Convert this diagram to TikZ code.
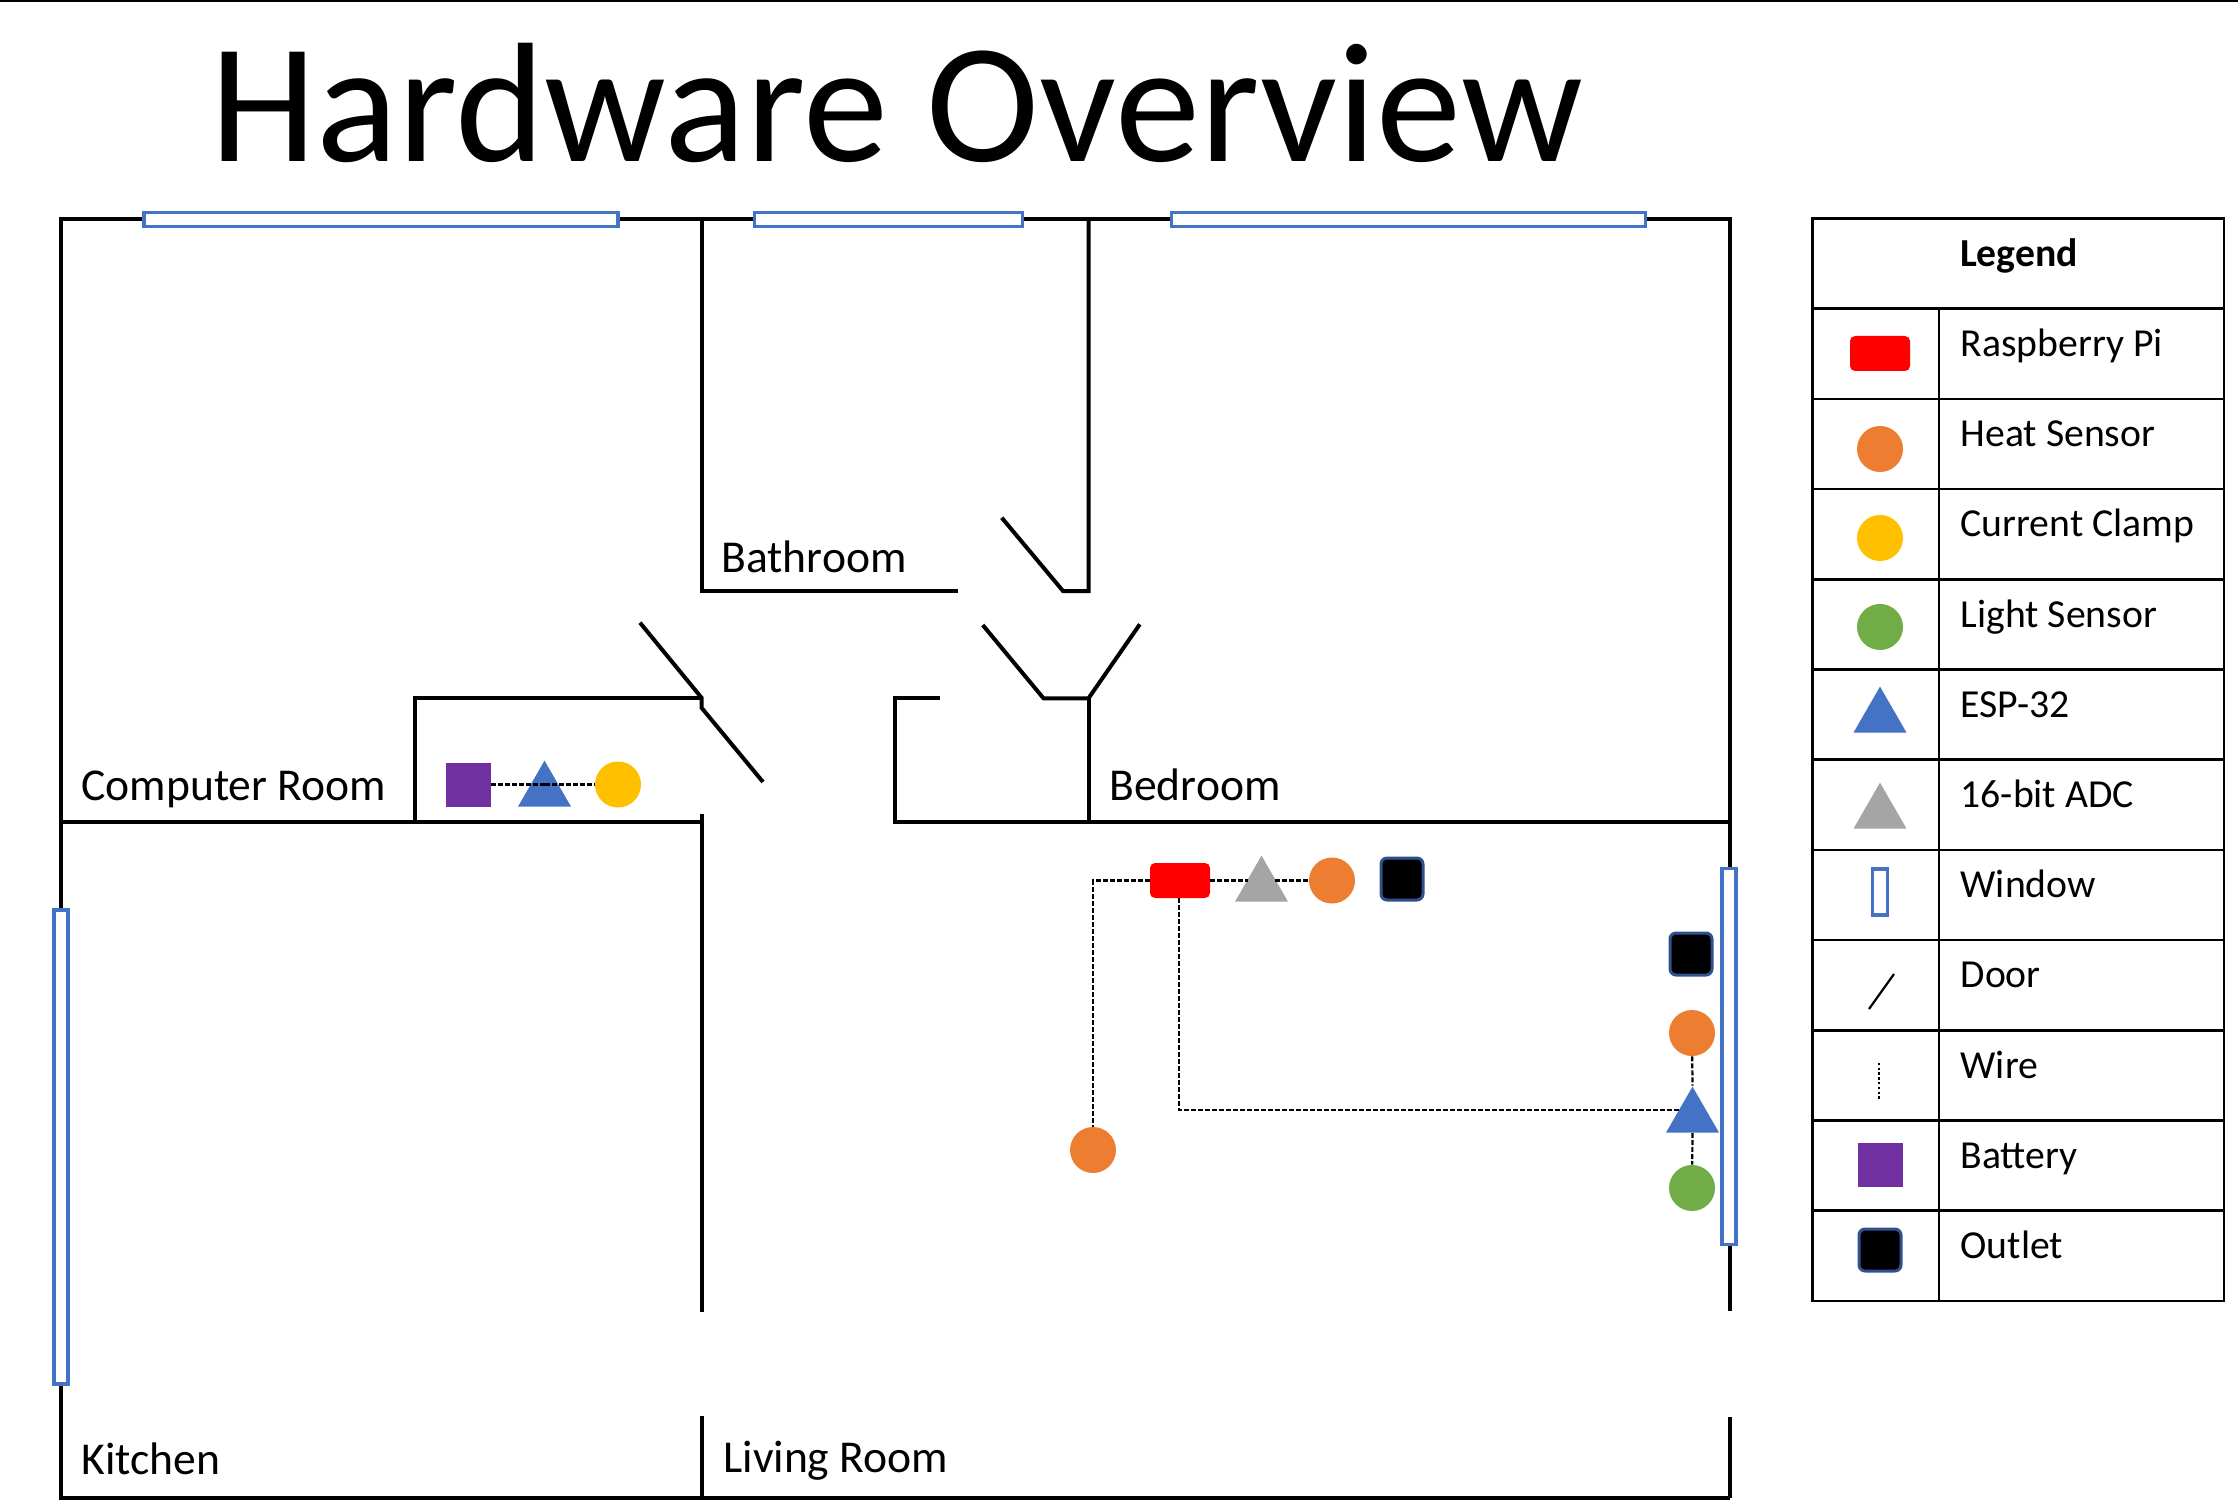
\documentclass[tikz,border=0pt]{standalone}
\usepackage{fontspec}
\setsansfont{Carlito}
\usetikzlibrary{shapes.geometric}
\definecolor{WinBlue}{HTML}{4472C4}
\definecolor{OutletBlue}{HTML}{2F528F}
\definecolor{HeatOrange}{HTML}{ED7D31}
\definecolor{ClampYellow}{HTML}{FFC000}
\definecolor{LightGreen}{HTML}{70AD47}
\definecolor{AdcGray}{HTML}{A5A5A5}
\definecolor{BattPurple}{HTML}{7030A0}
\begin{document}
\begin{tikzpicture}[font=\sffamily,x=.5pt,y=-.5pt,
    wall/.style={line width=2pt},
    grid line/.style={line width=1.3pt},
    wire/.style={line width=1.1pt,dash pattern=on 2.5pt off 1pt},
    room/.style={anchor=base west,inner sep=0pt,font=\sffamily\fontsize{22.8}{26}\selectfont},
    entry/.style={anchor=base west,inner sep=0pt,font=\sffamily\fontsize{19.85}{23}\selectfont},
    window/.style args={#1 by #2}{draw=WinBlue,fill=white,line width=1.6pt,
            inner sep=0pt,minimum width=#1*.5pt,minimum height=#2*.5pt},
    sensor/.style={circle,inner sep=0pt,minimum size=23pt},
    heat/.style={sensor,fill=HeatOrange},
    clamp/.style={sensor,fill=ClampYellow},
    light/.style={sensor,fill=LightGreen},
    tri/.style={isosceles triangle,isosceles triangle stretches,shape border rotate=90,
            inner sep=0pt,minimum width=26.5pt,minimum height=23pt,anchor=lower side},
    esp/.style={tri,fill=WinBlue},
    adc/.style={tri,fill=AdcGray},
    rpi/.style={fill=red,rounded corners=2.5pt,inner sep=0pt,minimum width=30pt,minimum height=17.5pt},
    battery/.style={fill=BattPurple,inner sep=0pt,minimum width=22.5pt,minimum height=22pt},
    outlet/.style={fill=black,draw=OutletBlue,line width=1.5pt,rounded corners=3pt,
            inner sep=0pt,minimum width=21pt,minimum height=21pt}]
    \useasboundingbox (0,-1) rectangle (2238,1507);
    \draw[line width=2pt] (0,-1) -- (2238,-1);
    \node[anchor=base west,inner sep=0pt,font=\sffamily\fontsize{85.2}{100}\selectfont] (title) at (210,161) {Hardware Overview};
    % walls
    \draw[wall] (701.5,218) -- (61,218) -- (61,1497) -- (1730,1497) (1730,1416) -- (1730,1497);
    \draw[wall] (1730,1310) -- (1730,218) -- (701.5,218);
    \draw[wall] (958,590) -- (701.5,590) -- (701.5,218);
    \draw[wall] (1088.5,218) -- (1088.5,590) -- (1063,590) -- (1001.7,516.7);
    \draw[wall] (61,820.5) -- (701.5,820.5);
    \draw[wall] (415.3,820.5) -- (415.3,697.3) -- (701.5,697.3);
    \draw[wall] (640,621.7) -- (701.5,696.7) -- (701.5,706.7) -- (763,781);
    \draw[wall] (701.5,813) -- (701.5,1310.7) (701.5,1415) -- (701.5,1497);
    \draw[wall] (1730,820.5) -- (895,820.5) -- (895,697.3) -- (940,697.3);
    \draw[wall] (982.7,624) -- (1043.5,697.3) -- (1088.5,697.3) -- (1139.8,623.3);
    \draw[wall] (1088.5,697.3) -- (1088.5,820.5);
    % windows
    \node[window=474 by 14] (win top a) at (381,218.7) {};
    \node[window=268 by 14] (win top b) at (888.5,218.7) {};
    \node[window=474 by 14] (win top c) at (1408.5,218.7) {};
    \node[window=14 by 474] (win left) at (61,1146) {};
    \node[window=14 by 376] (win right) at (1729,1055.5) {};
    % rooms
    \node[room] (bath) at (721,571.5) {Bathroom};
    \node[room] (computer) at (81,799.5) {Computer Room};
    \node[room] (bed) at (1109,799.5) {Bedroom};
    \node[room] (kitchen) at (81,1473.5) {Kitchen};
    \node[room] (living) at (723,1471.5) {Living Room};
    % computer room devices
    \node[battery] (bat c) at (468,783.5) {};
    \node[esp] (esp c) at (544.5,806) {};
    \node[clamp] (clamp c) at (618,783.5) {};
    \draw[wire] (bat c) -- (esp c.center |- bat c) (esp c.center |- bat c) -- (clamp c);
    % bedroom side devices
    \node[rpi] (pi) at (1180,879.5) {};
    \node[adc] (adc b) at (1261.5,901) {};
    \node[heat] (heat b) at (1332,879.5) {};
    \node[outlet] (outlet b) at (1402,878) {};
    \node[heat] (heat l) at (1093,1149) {};
    \node[outlet] (outlet r) at (1691,953) {};
    \node[heat] (heat r) at (1692,1032) {};
    \node[esp] (esp r) at (1692.5,1132) {};
    \node[light] (light r) at (1692,1187) {};
    \draw[wire] (pi.west) -| (heat l);
    \draw[wire] (pi) -- (pi -| adc b.left side);
    \draw[wire] (pi -| adc b.right side) -- (heat b);
    \draw[wire] ([xshift=-.5pt]pi.south) |- ([yshift=-.5pt]esp r.left side);
    \draw[wire] (heat r) -- (esp r.apex);
    \draw[wire] (esp r.lower side) -- (light r);
    % legend
    \draw[grid line] (1812.7,217.7) rectangle (2224,1299.8);
    \draw[grid line] (1939,307.7) -- (1939,1299.8);
    \node[anchor=base,inner sep=0pt,font=\sffamily\bfseries\fontsize{19.85}{23}\selectfont] (legend) at (2019,265.5) {Legend};
    \foreach \X [count=\Y] in {Raspberry Pi,Heat Sensor,Current Clamp,Light Sensor,ESP-32,16-bit ADC,Window,Door,Wire,Battery,Outlet}{
        \draw[grid line] (1812.7,{307.7+90.2*(\Y-1)}) -- (2224,{307.7+90.2*(\Y-1)});
        \node[entry] (entry\Y) at (1960.2,{355.5+90.2*(\Y-1)}) {\X};
    }
    \foreach \S/\P in {rpi/352.5,heat/448,clamp/537,light/626,esp/732,adc/828,battery/1164,outlet/1249}{
        \node[\S] (key \S) at (1880,\P) {};
    }
    \node[window=15 by 46] (key window) at (1880,891) {};
    \coordinate (door a) at (1869,1008);
    \coordinate (door b) at (1894,973);
    \draw[line width=1.1pt] (door a) -- (door b);
    \coordinate (wire a) at (1879,1061.7);
    \coordinate (wire b) at (1879,1098);
    \draw[line width=1.1pt,dash pattern=on 1.2pt off 1.2pt] (wire a) -- (wire b);
\end{tikzpicture}
\end{document}
